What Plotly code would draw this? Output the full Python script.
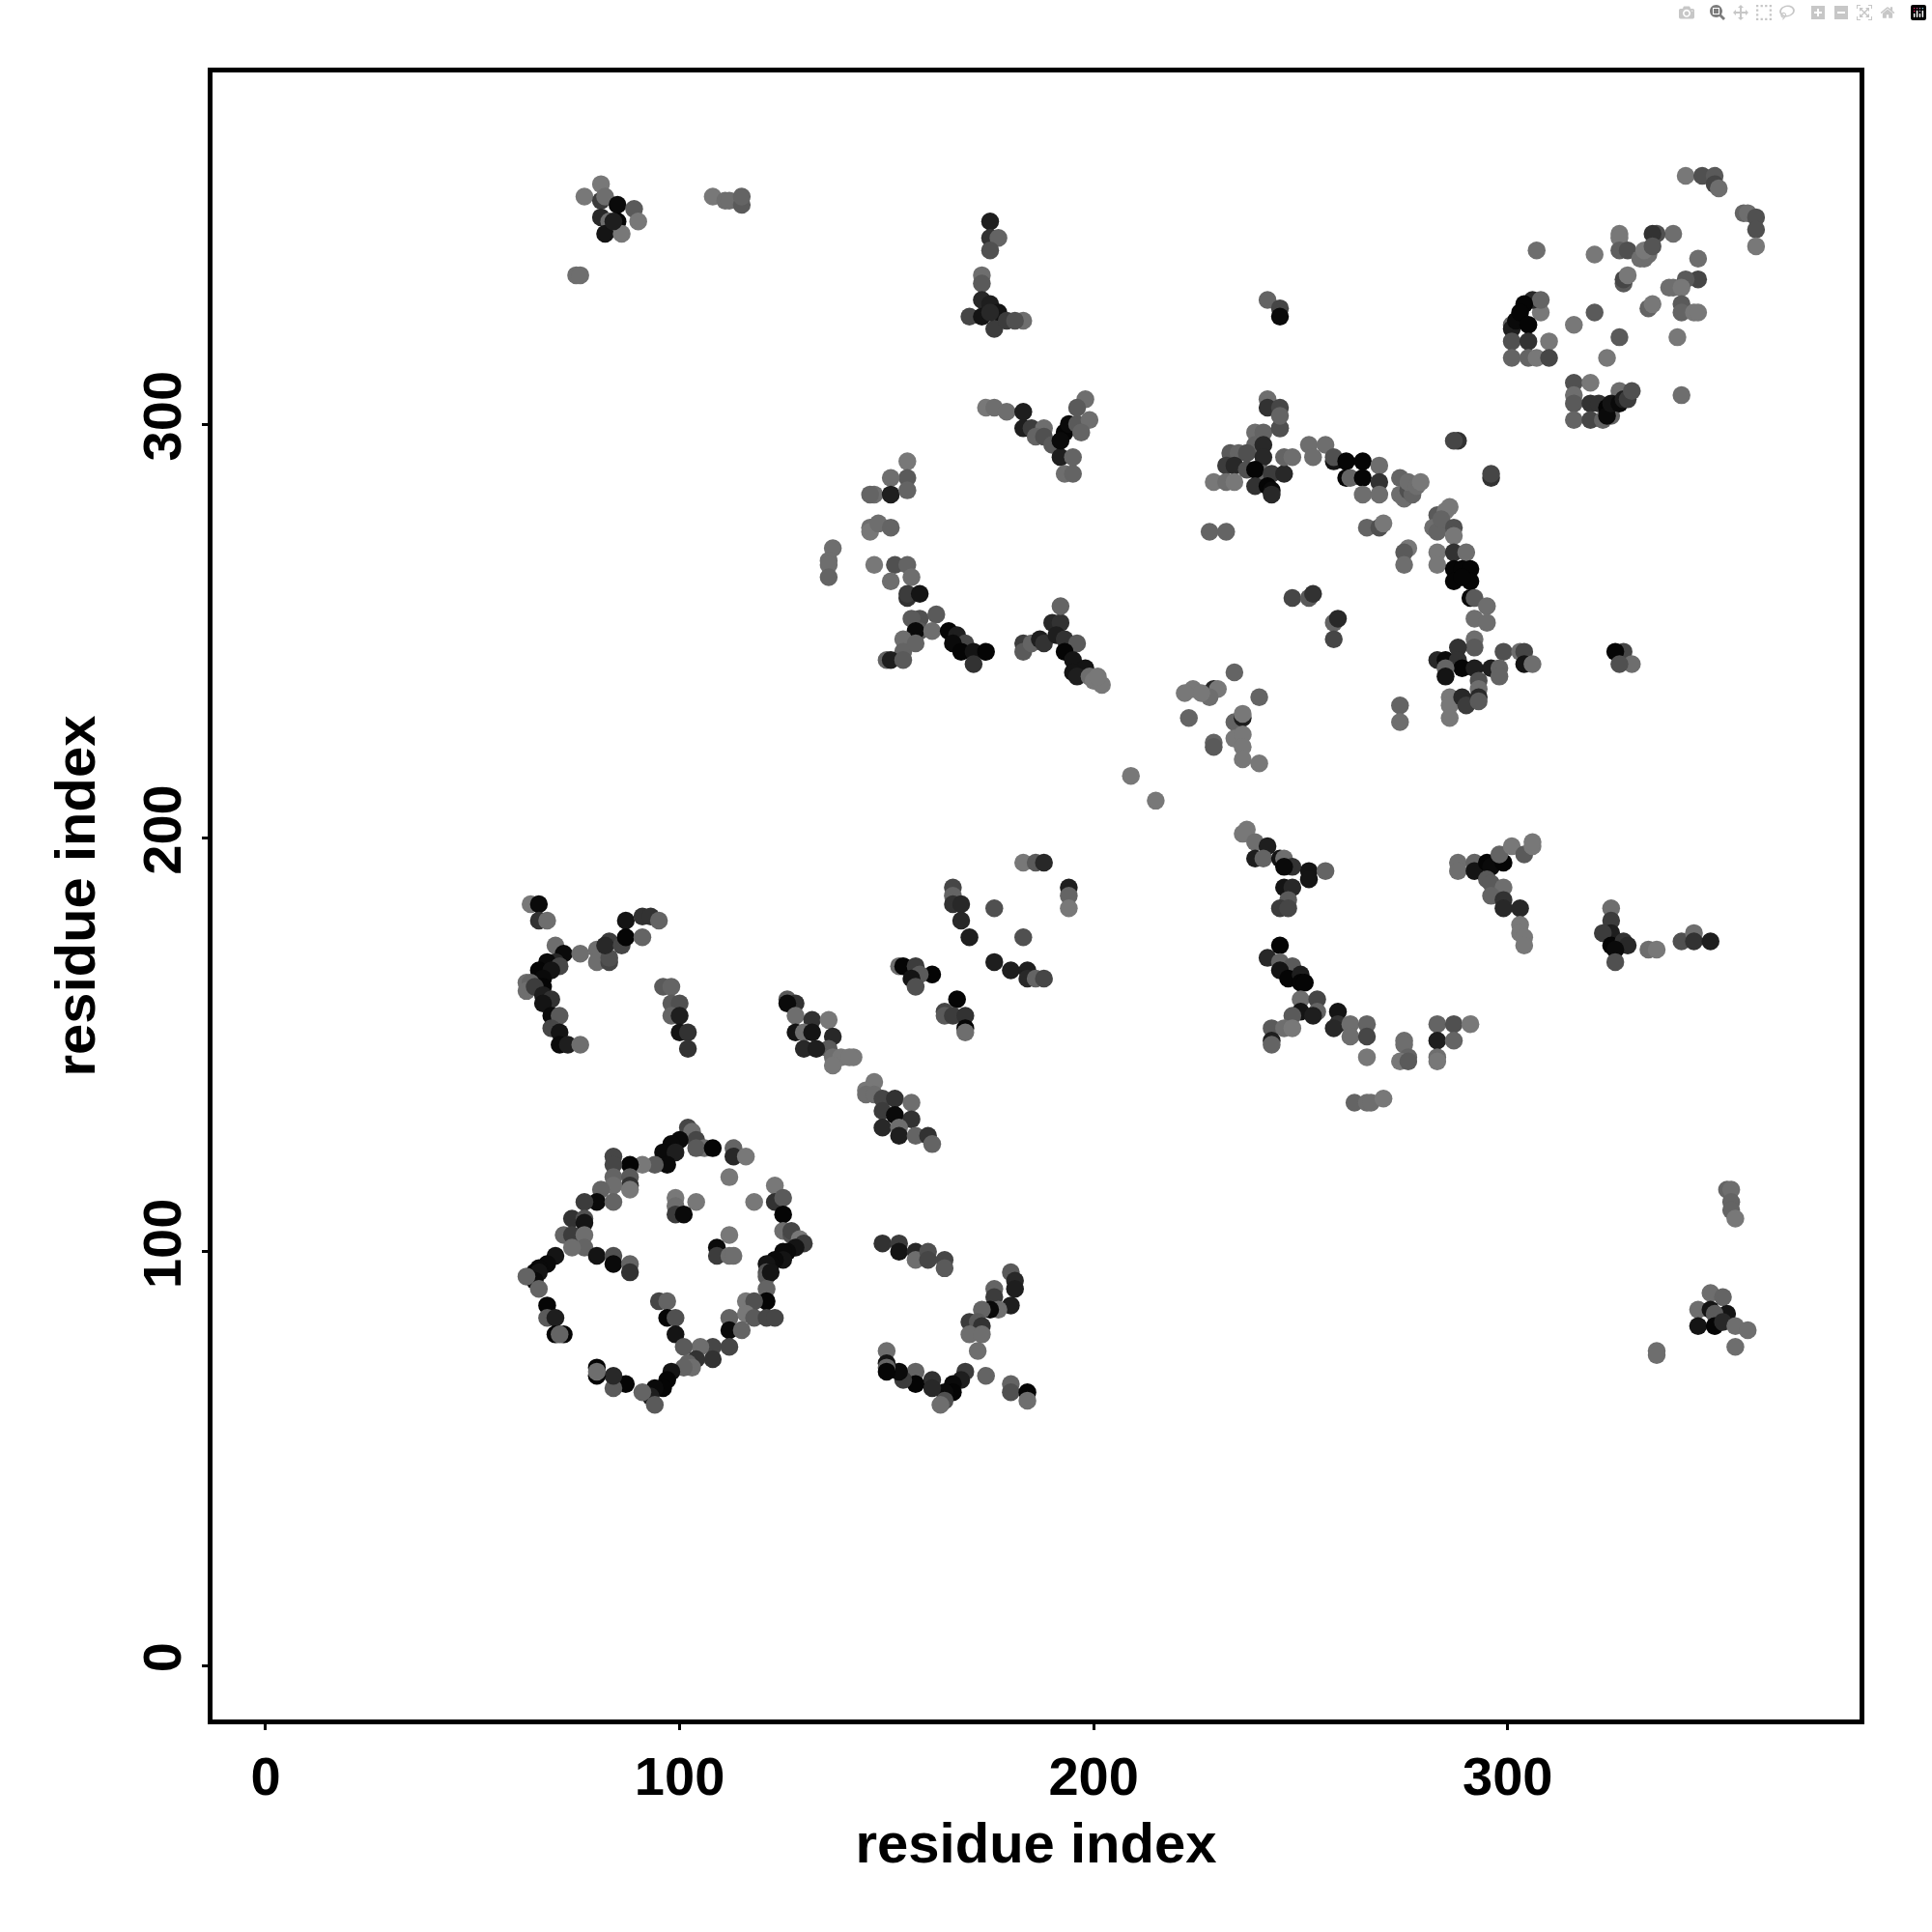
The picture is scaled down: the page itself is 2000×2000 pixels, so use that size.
import plotly.graph_objects as go

# residue pairs, region by region: i, j and grey level of each contact
ur1_i = [343,347,350,350,351,357,358,360,360,360]
ur1_j = [360,360,360,358,357,351,351,350,347,343]
ur1_g = [120,80,90,70,110,100,110,80,80,120]
ur2_i = [340,336,335,327,327,327,329,333,332,334,333,335,321,307]
ur2_j = [346,346,346,346,345,342,342,340,340,341,342,343,341,342]
ur2_g = [110,80,50,120,120,95,80,110,110,110,120,85,120,110]
ur3_i = [346,346,343,339,340,342,328,328,329,342,342,345,346,334,335,321,316,327,341,324,342]
ur3_j = [340,335,335,333,333,333,334,335,336,329,327,327,327,328,329,327,324,321,321,316,307]
ur3_g = [110,70,90,110,110,120,90,70,120,90,100,120,120,100,120,90,120,90,120,120,110]
ur4_i = [301,301,301,302,308,306,308,304,303,305,305,310,301,305,307,310]
ur4_j = [324,323,320,325,327,330,330,329,327,324,320,320,316,316,316,316]
ur4_g = [100,30,80,10,120,40,100,5,5,5,50,120,100,100,120,70]
ur5_i = [316,320,316,316,316,320,320,323,325,327,322,324,324,325,327,328,329,330]
ur5_j = [310,310,307,305,301,305,301,301,302,308,305,304,302,305,305,306,306,308]
ur5_g = [80,120,110,90,100,50,70,100,100,110,50,5,10,20,10,30,60,80]

arc1_i = [239,241,239,241,245,233,235,237,241,232,234,237,229,232,234,241,239,243,246]
arc1_j = [298,298,295,295,299,293,293,293,292,290,290,289,286,286,286,288,289,288,288]
arc1_g = [110,100,100,40,80,90,100,80,40,60,40,80,120,110,120,100,5,60,40]
arc2_i = [239,242,243,243,246,248,252,256,253,258,258,261,261,262,265,265,269,269,265,269]
arc2_j = [285,285,284,283,292,292,295,295,292,291,292,291,287,287,291,287,290,286,283,283]
arc2_g = [50,5,10,40,100,110,110,110,110,20,80,5,5,100,5,5,110,50,110,110]
arc3_i = [274,274,275,276,277,276,278,279,288,287,296,296]
arc3_j = [287,283,282,284,283,286,285,286,296,296,287,288]
arc3_g = [100,110,110,80,100,110,110,120,50,70,50,70]
arc4_i = [283,282,283,285,286,284,287,287,266,269,270,276,275,275]
arc4_j = [278,275,274,279,280,277,275,273,275,275,276,270,269,266]
arc4_g = [90,110,100,120,120,100,80,120,100,80,120,120,90,110]
arc5_i = [283,283,287,290,287,289,291,287,291,289,291,292,295,292,295]
arc5_j = [269,266,269,269,265,265,265,262,262,263,258,258,256,253,252]
arc5_g = [120,120,50,110,5,5,5,5,5,5,10,90,110,110,110]
arc6_i = [292,292,288,299,303,304,304,306,283,285,288,289,285,285,292,296,298,298,293]
arc6_j = [248,246,246,245,245,245,242,242,243,243,243,241,241,239,241,241,241,239,238]
arc6_g = [110,90,50,80,110,70,20,110,40,10,50,5,100,20,30,30,100,100,80]
arc7_i = [286,286,286,289,290,293,293,293,274,274,228,232,248,252,253,258,259,258]
arc7_j = [234,232,229,234,232,236,234,233,232,228,274,274,258,258,259,252,253,248]
arc7_g = [120,120,120,40,60,110,40,90,100,110,100,100,70,90,50,100,40,70]

mid1_i = [234,229,230,228,224,226,222,240,223,234,236,236,234,236,236,229,229,236,240]
mid1_j = [240,236,236,234,236,235,235,234,229,228,229,230,224,225,222,223,222,219,218]
mid1_g = [100,40,120,110,120,120,120,100,100,100,30,120,120,120,120,100,90,120,120]
mid2_i = [242,245,245,242,242,245,245,245,328,326,330,327,209,215]
mid2_j = [330,328,326,306,304,304,299,302,245,245,242,242,215,209]
mid2_g = [100,70,10,110,50,70,80,100,70,5,110,80,120,120]

top1_i = [77,81,81,82,85,89,81,83,85,90,82,86,84,75,76]
top1_j = [355,358,354,355,353,352,350,349,349,349,346,346,349,336,336]
top1_g = [120,120,60,110,10,90,40,110,5,120,20,120,30,110,110]
top2_i = [108,111,112,115,115,175,175,177,175,173,173,170,173,175,177,173,176,179,183,181,175]
top2_j = [355,354,354,353,355,349,345,345,342,336,334,326,330,329,327,326,323,325,325,325,327]
top2_g = [120,110,110,90,100,30,50,100,80,110,90,70,40,30,20,20,60,60,110,80,40]
top3_i = [174,176,179,183,183,185,188,186,188,190,192,193,192,194,196,198,196,199,197,195,193,195]
top3_j = [304,304,303,303,299,299,299,297,297,295,292,298,296,300,300,306,304,301,298,292,288,288]
top3_g = [120,110,110,30,30,60,110,100,80,90,30,5,10,10,90,110,90,110,100,100,110,100]

lft1_i = [155,155,151,147,146,151,155,146,146,148,151,137,136,136,136,147]
lft1_j = [291,287,287,283,283,283,284,275,274,276,275,270,267,266,263,266]
lft1_g = [120,90,110,110,100,30,100,110,120,110,100,110,110,110,100,120]
lft2_i = [152,155,156,151,155,155,158,158,162,156,158,157,161,154,154,157,150,151,154]
lft2_j = [266,266,263,262,258,259,259,253,254,253,250,250,250,248,245,247,243,243,243]
lft2_g = [80,100,110,110,50,60,20,80,90,90,90,10,110,110,100,100,100,30,90]
lft3_i = [165,167,169,166,168,171,174,171,183,183,185,187,188,190,192,192,191,193,196,193,195,198,195,196,199,200,202,201]
lft3_j = [250,249,247,247,245,245,245,242,247,245,247,248,247,252,252,256,249,248,247,245,243,241,240,239,239,238,237,239]
lft3_g = [5,30,70,10,5,20,5,50,60,90,100,30,50,40,50,100,30,50,90,5,20,20,20,30,110,120,120,120]

rgt1_i = [237,236,239,242,239,241,245,246,248,246,252,256,252,246,248,247,245,247]
rgt1_j = [202,201,199,198,195,195,195,195,193,193,192,192,190,188,188,185,183,183]
rgt1_g = [120,120,110,30,30,100,20,110,50,10,20,100,20,20,40,90,60,70]
rgt2_i = [245,242,245,248,245,247,250,250,251,250,254,254,250,248,253,259,259,258,262,266,262,266,243,246,248,243,243]
rgt2_j = [174,171,170,169,168,166,167,165,165,161,161,158,158,157,157,158,155,154,155,155,152,152,154,154,154,151,150]
rgt2_g = [5,40,100,90,20,5,30,5,5,110,70,100,20,90,30,20,50,40,110,100,110,70,90,110,120,30,100]
rgt3_i = [266,275,275,276,274,276,283,287,291,283,287,283,283,263,266,267,270]
rgt3_j = [147,151,150,147,146,146,155,155,155,151,151,147,146,136,136,136,137]
rgt3_g = [120,110,110,100,120,90,100,80,120,30,100,110,120,100,110,110,120]
rgt4_i = [325,325,325,323,325,328,329,326,326,334,336,342,345,345,349]
rgt4_j = [183,180,177,177,174,175,174,173,170,173,173,175,177,175,175]
rgt4_g = [110,60,30,60,5,50,40,10,80,110,120,80,110,50,30]
rgt5_i = [288,288,292,292,295,296,299,298,301,304,306,306,295,296,299,296,299,299,303,303,303,304,304]
rgt5_j = [194,192,194,192,194,193,194,196,198,196,198,199,190,189,188,186,185,183,183,179,177,176,174]
rgt5_g = [110,110,100,20,5,10,5,100,120,90,120,120,90,90,110,100,50,40,40,120,120,120,120]
rgt6_i = [353,354,354,354,355,349,352,346,349,353,350,346,350,352,355,358,355,336,336]
rgt6_j = [115,115,112,110,108,90,89,86,86,85,85,82,82,83,82,81,77,76,75]
rgt6_g = [100,110,100,100,120,110,100,110,20,20,90,20,5,40,110,110,110,110,110]

ctr1_i = [183,186,188,194,194,194,166,166,166,168,168,170,176,183]
ctr1_j = [194,194,194,188,186,183,188,186,184,184,180,176,183,176]
ctr1_g = [120,90,40,30,100,120,70,100,50,40,40,30,80,80]
ctr2_i = [176,180,184,184,186,188,153,154,157,161,158,156,157]
ctr2_j = [170,168,168,166,166,166,169,169,169,167,167,166,164]
ctr2_g = [30,30,30,40,100,70,110,5,60,5,90,20,80]
ctr3_i = [167,164,164,166,169,169,169]
ctr3_j = [161,158,157,157,157,154,153]
ctr3_g = [5,70,90,60,50,5,110]
ctr4_i = [142,147,145,145,147,149,152,156,149,149,152,156,153,153,157,160,161]
ctr4_j = [147,141,139,138,138,137,137,136,134,130,133,132,130,128,128,128,126]
ctr4_g = [120,120,120,110,110,70,50,110,60,40,10,50,110,30,100,50,100]

ll1_i = [64,66,66,68,70,72,70,68,66,71,69,67,63,64,67,63,65,67,69,67,69,71,69,71,71,73,76]
ll1_j = [184,184,180,180,174,172,170,170,168,169,168,166,165,165,164,163,164,162,161,160,157,157,154,153,150,150,150]
ll1_g = [120,10,50,110,110,10,40,10,5,70,20,10,110,100,5,110,60,30,50,20,10,90,70,20,10,30,110]
ll2_i = [76,80,80,83,83,83,82,86,87,87,91,91,93,95]
ll2_j = [172,173,170,170,171,175,174,174,180,176,176,181,181,180]
ll2_g = [110,110,110,70,80,60,40,70,20,5,100,50,50,100]
ll3_i = [96,98,98,100,98,100,100,102,102]
ll3_j = [164,164,160,160,157,157,153,153,149]
ll3_g = [90,100,90,80,100,30,20,50,50]
ll4_i = [126,128,126,128,132,136,128,130,132,137,136,130,133,137,139,141,137]
ll4_j = [161,160,160,157,156,156,153,153,153,152,149,149,149,147,147,147,145]
ll4_g = [90,50,10,110,50,120,20,110,20,40,90,40,30,110,120,120,120]

box1_i = [102,103,104,100,98,106,104,96,99,108,113,113,116,97,94,91,88,84,84,84,88,88,84,88]
box1_j = [130,129,127,127,126,125,125,124,124,125,125,123,123,121,121,121,121,123,121,118,118,116,116,115]
box1_g = [70,110,70,10,10,110,90,10,30,5,100,40,120,10,90,120,5,70,70,100,90,50,110,120]
box2_i = [81,80,84,77,74,77,77,72,74,77,77,74,80,84,84,88,88]
box2_j = [115,112,112,112,108,108,107,104,104,104,101,101,99,99,97,97,95]
box2_g = [100,10,100,60,50,80,20,100,60,110,100,110,20,80,10,100,50]
box3_i = [70,68,66,65,66,65,63,66,68,68,70,70,72,71]
box3_j = [99,97,96,95,95,93,94,91,87,84,84,80,80,80]
box3_g = [20,10,10,5,20,10,100,100,5,90,30,5,5,100]
box4_i = [99,104,99,99,101,112,118,123,123,125,125,112,109,109,112,113]
box4_j = [113,112,111,109,109,118,112,116,112,113,109,104,101,99,99,99]
box4_g = [120,120,110,60,10,120,120,120,50,90,5,120,10,60,110,110]
box5_i = [125,127,127,129,130,128,126,125,125,123,122,121,121,121,122,121,121]
box5_j = [105,104,105,103,102,101,100,100,98,98,97,97,95,94,95,91,88]
box5_g = [110,80,70,120,60,20,10,10,20,10,10,20,80,90,20,100,5]
box6_i = [116,118,116,118,121,123,95,97,97,99,99,112,112,115,112,108]
box6_j = [88,88,85,84,84,84,88,88,84,84,80,84,81,81,77,77]
box6_g = [120,80,120,90,70,70,70,100,5,80,20,100,10,100,70,70]
box7_i = [108,105,101,104,102,103,101,98,97,96,94,93,94,91,87,84,84,80,80,80]
box7_j = [74,77,77,74,73,72,72,71,69,67,67,65,63,66,68,67,70,70,72,71]
box7_g = [50,110,90,50,100,110,100,20,5,5,10,30,90,100,5,90,40,5,5,110]

low1_i = [149,153,153,157,157,160,160,164,164]
low1_j = [102,102,100,100,98,100,98,98,96]
low1_g = [50,60,20,40,110,80,70,70,90]
low2_i = [180,181,181,176,176,180,177,175,173,170,172,173,170,173,172,174,169,168,166,166,164,164,163]
low2_j = [95,93,91,91,89,87,86,86,86,83,83,82,80,80,76,70,71,69,68,66,66,64,63]
low2_g = [90,40,30,100,60,30,110,10,100,60,90,50,110,110,110,100,60,30,10,5,10,80,110]
low3_i = [161,161,157,157,154,153,150,150,150,150,180,180,184,184]
low3_j = [69,67,71,68,69,71,76,73,72,71,68,66,66,64]
low3_g = [50,40,100,5,60,10,110,20,100,5,100,80,5,110]

tick_vals = [0, 100, 200, 300]
tick_text = ["0", "100", "200", "300"]
axis_label = "residue index"

regions = [
    (ur1_i, ur1_j, ur1_g), (ur2_i, ur2_j, ur2_g), (ur3_i, ur3_j, ur3_g), (ur4_i, ur4_j, ur4_g), (ur5_i, ur5_j, ur5_g),
    (arc1_i, arc1_j, arc1_g), (arc2_i, arc2_j, arc2_g), (arc3_i, arc3_j, arc3_g), (arc4_i, arc4_j, arc4_g),
    (arc5_i, arc5_j, arc5_g), (arc6_i, arc6_j, arc6_g), (arc7_i, arc7_j, arc7_g),
    (mid1_i, mid1_j, mid1_g), (mid2_i, mid2_j, mid2_g),
    (top1_i, top1_j, top1_g), (top2_i, top2_j, top2_g), (top3_i, top3_j, top3_g),
    (lft1_i, lft1_j, lft1_g), (lft2_i, lft2_j, lft2_g), (lft3_i, lft3_j, lft3_g),
    (rgt1_i, rgt1_j, rgt1_g), (rgt2_i, rgt2_j, rgt2_g), (rgt3_i, rgt3_j, rgt3_g),
    (rgt4_i, rgt4_j, rgt4_g), (rgt5_i, rgt5_j, rgt5_g), (rgt6_i, rgt6_j, rgt6_g),
    (ctr1_i, ctr1_j, ctr1_g), (ctr2_i, ctr2_j, ctr2_g), (ctr3_i, ctr3_j, ctr3_g), (ctr4_i, ctr4_j, ctr4_g),
    (ll1_i, ll1_j, ll1_g), (ll2_i, ll2_j, ll2_g), (ll3_i, ll3_j, ll3_g), (ll4_i, ll4_j, ll4_g),
    (box1_i, box1_j, box1_g), (box2_i, box2_j, box2_g), (box3_i, box3_j, box3_g), (box4_i, box4_j, box4_g),
    (box5_i, box5_j, box5_g), (box6_i, box6_j, box6_g), (box7_i, box7_j, box7_g),
    (low1_i, low1_j, low1_g), (low2_i, low2_j, low2_g), (low3_i, low3_j, low3_g),
]

xs, ys, colors = [], [], []
for a, b, c in regions:
    n = min(len(a), len(b), len(c))
    if not (len(a) == len(b) == len(c)):
        print("length mismatch", a[:2], len(a), len(b), len(c))
    xs += a[:n]
    ys += b[:n]
    colors += [f"rgb({v},{v},{v})" for v in c[:n]]

fig = go.Figure(go.Scatter(
    x=xs, y=ys, mode="markers",
    marker=dict(size=18.5, color=colors, line=dict(width=0)),
    showlegend=False,
))

font = "Liberation Sans"
axis = dict(
    tickmode="array", tickvals=tick_vals, ticktext=tick_text,
    showline=True, mirror=True, linecolor="black", linewidth=5,
    ticks="outside", ticklen=6, tickwidth=2.5, tickcolor="black",
    showgrid=False, zeroline=False,
    tickfont=dict(family=font, size=56, color="black", weight="bold"),
)
fig.update_layout(
    width=2000, height=2000,
    margin=dict(l=220, r=74.5, t=74.5, b=219.5, autoexpand=False),
    paper_bgcolor="white", plot_bgcolor="white",
    xaxis=dict(axis, range=[-12.83, 385.0], tickangle=0,
               title=dict(text=axis_label, standoff=20,
                          font=dict(family=font, size=58, color="black", weight="bold"))),
    yaxis=dict(axis, range=[-13.07, 385.0], tickangle=-90,
               title=dict(text=axis_label, standoff=20,
                          font=dict(family=font, size=58, color="black", weight="bold"))),
)
fig.write_html("out.html", post_script="document.body.style.margin='0';")
